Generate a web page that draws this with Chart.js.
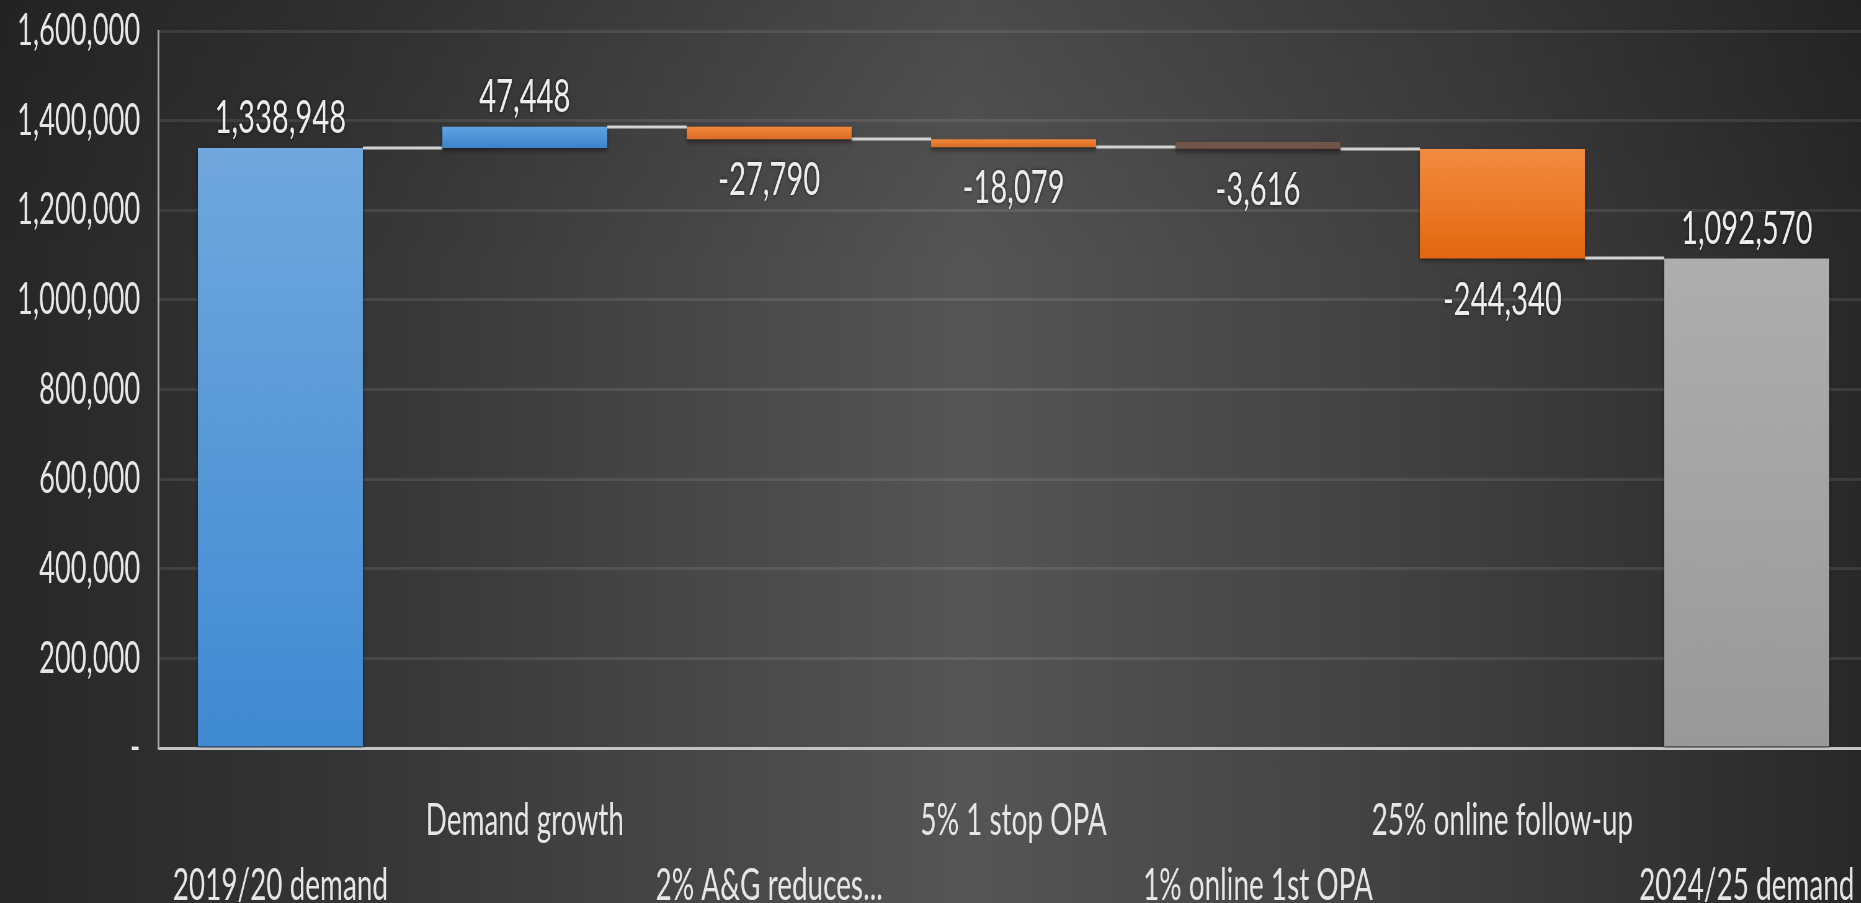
<!DOCTYPE html>
<html>
<head>
<meta charset="utf-8">
<script src="https://cdn.jsdelivr.net/npm/chart.js@4.4.1/dist/chart.umd.min.js"></script>
<style>
  body {
    margin: 0;
    width: 1861px;
    height: 903px;
    overflow: hidden;
    background:
      linear-gradient(to bottom, rgba(0,0,0,0.12) 0%, rgba(0,0,0,0) 30%),
      linear-gradient(to right, #272727 0%, #363636 20%, #555555 52%, #3d3d3d 80%, #282828 100%);
  }
  /* the original chart was squeezed sideways, so draw it wide and squeeze it */
  #wrap {
    width: 3013px;
    height: 903px;
    position: relative;
    transform: scaleX(0.6203);
    transform-origin: 0 0;
  }
</style>
</head>
<body>
<div id="wrap"><canvas id="waterfall"></canvas></div>
<script>
// waterfall: demand 2019/20 -> 2024/25
const categories = ['2019/20 demand', 'Demand growth', '2% A&G reduces...', '5% 1 stop OPA',
                    '1% online 1st OPA', '25% online follow-up', '2024/25 demand'];
const changeValues = [1338948, 47448, -27790, -18079, -3616, -244340, 1092570];
const isTotal = [true, false, false, false, false, false, true];
const yMax = 1600000;
const yStep = 200000;

// colours per bar, top -> bottom of the bar
const barColors = [
  ['#70a8de', '#3f8ad2'],
  ['#5ea2e2', '#3c84cc'],
  ['#f28a3c', '#dc6c22'],
  ['#f08638', '#dc6c22'],
  ['#705548', '#634a3e'],
  ['#f38c40', '#e3670f'],
  ['#aeaeae', '#999999']
];

const fontFamily = "Lato, 'Open Sans', sans-serif";

// floating bars [start, end]
let running = 0;
const ranges = changeValues.map(function(v, i) {
  if (isTotal[i]) { running = v; return [0, v]; }
  const start = running;
  running += v;
  return [start, running];
});

// alternate rows of axis labels
const xLabels = categories.map(function(c, i) {
  return i % 2 === 0 ? ['', c] : [c, ''];
});

const fmt = function(v) { return v.toLocaleString('en-US'); };

const connectorPlugin = {
  id: 'connectors',
  beforeDatasetsDraw: function(chart) {
    const ctx = chart.ctx;
    const bars = chart.getDatasetMeta(0).data;
    const y = chart.scales.y;
    ctx.save();
    ctx.strokeStyle = '#d2d2d2';
    ctx.lineWidth = 3;
    for (let i = 0; i < bars.length - 1; i++) {
      const py = Math.round(y.getPixelForValue(ranges[i][1]));
      ctx.beginPath();
      ctx.moveTo(bars[i].x + bars[i].width / 2, py);
      ctx.lineTo(bars[i + 1].x - bars[i + 1].width / 2, py);
      ctx.stroke();
    }
    ctx.restore();
    // soft shadow under the bars
    ctx.save();
    ctx.shadowColor = 'rgba(0,0,0,0.45)';
    ctx.shadowBlur = 5;
    ctx.shadowOffsetY = 3;
  },
  afterDatasetsDraw: function(chart) {
    chart.ctx.restore();
  }
};

const valueLabelPlugin = {
  id: 'valueLabels',
  afterDatasetsDraw: function(chart) {
    const ctx = chart.ctx;
    const bars = chart.getDatasetMeta(0).data;
    ctx.save();
    ctx.font = '47px ' + fontFamily;
    ctx.fillStyle = '#ededed';
    ctx.textAlign = 'center';
    ctx.textBaseline = 'middle';
    ctx.shadowColor = 'rgba(0,0,0,0.6)';
    ctx.shadowBlur = 4;
    bars.forEach(function(bar, i) {
      const top = Math.min(bar.y, bar.base);
      const bottom = Math.max(bar.y, bar.base);
      const v = changeValues[i];
      if (isTotal[i] || v >= 0) {
        ctx.fillText(fmt(v), bar.x, top - 30);
      } else {
        ctx.fillText(fmt(v), bar.x, bottom + 41);
      }
    });
    ctx.restore();
  }
};

function barFill(c) {
  const chart = c.chart;
  const cols = barColors[c.dataIndex] || barColors[0];
  if (!chart.chartArea || !chart.scales.y) return cols[0];
  const r = ranges[c.dataIndex];
  const y = chart.scales.y;
  const top = y.getPixelForValue(Math.max(r[0], r[1]));
  const bottom = y.getPixelForValue(Math.min(r[0], r[1]));
  if (!isFinite(top) || !isFinite(bottom) || bottom - top < 1) return cols[0];
  const g = chart.ctx.createLinearGradient(0, top, 0, bottom);
  g.addColorStop(0, cols[0]);
  g.addColorStop(1, cols[1]);
  return g;
}

window.onload = function() {
  const ctx = document.getElementById('waterfall');
  const config = {
    type: 'bar',
    data: {
      labels: xLabels,
      datasets: [{
        data: ranges,
        backgroundColor: barFill,
        borderWidth: 0,
        minBarLength: 7,
        categoryPercentage: 1,
        barPercentage: 0.675
      }]
    },
    options: {
      responsive: true,
      maintainAspectRatio: false,
      animation: false,
      layout: { padding: { left: 22, top: 31, right: 0, bottom: -15 } },
      plugins: {
        legend: { display: false },
        tooltip: { enabled: false }
      },
      scales: {
        x: {
          grid: { display: true, color: 'rgba(0,0,0,0)', drawTicks: true, tickLength: 40, tickColor: 'rgba(0,0,0,0)' },
          border: { display: true, color: '#c4c4c4', width: 3 },
          ticks: {
            color: '#e6e6e6',
            padding: 0,
            autoSkip: false,
            maxRotation: 0,
            minRotation: 0,
            font: { family: fontFamily, size: 45, lineHeight: '65px' }
          }
        },
        y: {
          min: 0,
          max: yMax,
          afterFit: function(scale) { scale.width = 233; },
          grid: { color: 'rgba(255,255,255,0.09)', lineWidth: 3, drawTicks: true, tickLength: 29, tickColor: 'rgba(0,0,0,0)' },
          border: { display: true, color: '#a8a8a8', width: 3 },
          ticks: {
            stepSize: yStep,
            color: '#e6e6e6',
            padding: 0,
            font: { family: fontFamily, size: 44 },
            callback: function(v) { return v === 0 ? '-' : fmt(v); }
          }
        }
      }
    },
    plugins: [connectorPlugin, valueLabelPlugin]
  };
  const waterfallChart = new Chart(ctx, config);
};
</script>
</body>
</html>
